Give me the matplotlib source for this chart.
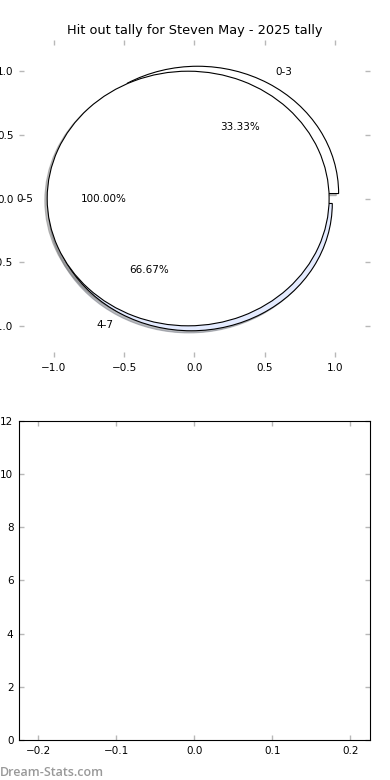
import matplotlib
matplotlib.use("Agg")
import matplotlib.pyplot as plt

# hit out tally buckets
labels_a = ["0-3", "4-7"]
values_a = [1, 2]
colors_a = ["white", "#e4ebff"]

labels_b = ["0-5"]
values_b = [1]
colors_b = ["white"]

title = "Hit out tally for Steven May - 2025 tally"

fig = plt.figure(figsize=(3.9, 7.8), dpi=100)

ax1 = fig.add_axes([0.0487, 0.5423, 0.9, 0.4064])
w_style = {"edgecolor": "black", "linewidth": 0.8}
shadow = {"ox": -0.012, "oy": -0.012, "shade": 0.5}
ax1.pie(values_a, labels=labels_a, colors=colors_a, explode=[0.045] * len(values_a),
        autopct="%1.2f%%", shadow=shadow, frame=True, wedgeprops=w_style,
        textprops={"fontsize": 7.5})
ax1.pie(values_b, labels=labels_b, colors=colors_b, explode=[0.045] * len(values_b),
        autopct="%1.2f%%", shadow=shadow, frame=True, wedgeprops=w_style,
        textprops={"fontsize": 7.5})
ax1.set_aspect("auto")
ax1.set_xlim(-1.245, 1.245)
ax1.set_ylim(-1.245, 1.245)
ax1.set_xticks([-1.0, -0.5, 0.0, 0.5, 1.0])
ax1.set_yticks([-1.0, -0.5, 0.0, 0.5, 1.0])
for s in ax1.spines.values():
    s.set_visible(False)
ax1.set_title(title, fontsize=9.3, pad=4)

ax2 = fig.add_axes([0.0487, 0.0513, 0.9, 0.409])
ax2.set_xlim(-0.225, 0.225)
ax2.set_ylim(0, 12)
ax2.set_xticks([-0.2, -0.1, 0.0, 0.1, 0.2])
ax2.set_yticks(range(0, 13, 2))

for ax in (ax1, ax2):
    ax.tick_params(direction="in", length=3.5, width=1, color="#b8b8b8",
                   top=True, right=True, labelsize=7.5, pad=4)

fig.text(0.0, 0.005, "Dream-Stats.com", fontsize=9, color="#999999",
         family="Open Sans", weight="semibold")

fig.savefig("out.png", dpi=100)
